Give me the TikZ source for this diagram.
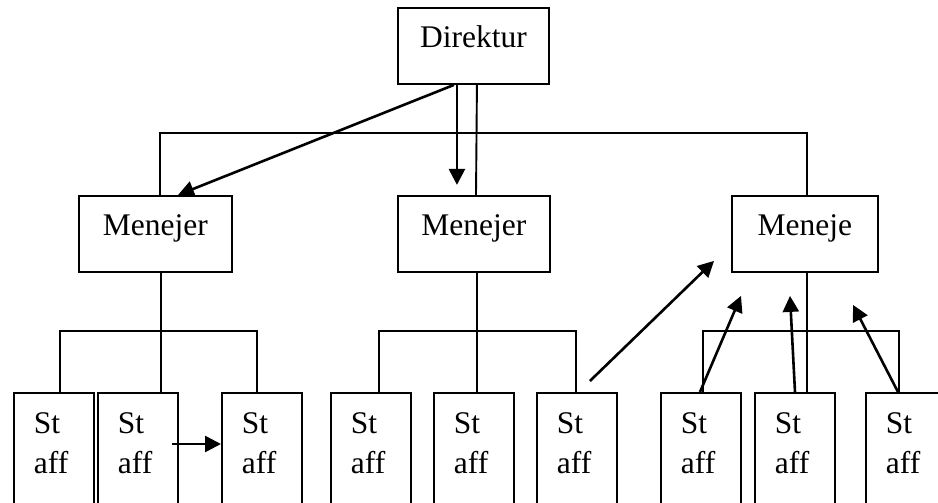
\documentclass[tikz,border=0pt]{standalone}
\usepackage{fontspec}
\setmainfont{Liberation Serif}
\usetikzlibrary{arrows.meta,calc}
\begin{document}
\begin{tikzpicture}[x=1pt,y=-1pt,
  box/.style={draw, line width=1.9pt, rectangle},
  headbox/.style={box, anchor=north west, font=\fontsize{31.5pt}{40pt}\selectfont,
    text height=21pt, text depth=17pt, inner ysep=19pt, inner xsep=0pt},
  staffbox/.style={box, anchor=north west, font=\fontsize{31.5pt}{40pt}\selectfont,
    inner xsep=20pt, inner ysep=20pt, minimum width=80pt},
  link/.style={line width=1.9pt},
  push/.style={line width=2.6pt, -{Triangle[length=16pt,width=16pt]}}]

\clip (0,0) rectangle (938,503);

% director and managers
\node[headbox, minimum width=151pt] (d)  at (397,7)   {Direktur};
\node[headbox, minimum width=153pt] (m1) at (78,195)  {Menejer};
\node[headbox, minimum width=152pt] (m2) at (397,195) {Menejer};
\node[headbox, minimum width=146pt] (m3) at (731,195) {Meneje};

% staff
\newcommand{\stafftext}{\parbox[t][110pt][t]{40pt}{St\\aff}}
\node[staffbox] (s1) at (13,392)  {\stafftext};
\node[staffbox] (s2) at (97,392)  {\stafftext};
\node[staffbox] (s3) at (221,392) {\stafftext};
\node[staffbox] (s4) at (330,392) {\stafftext};
\node[staffbox] (s5) at (433,392) {\stafftext};
\node[staffbox] (s6) at (536,392) {\stafftext};
\node[staffbox] (s7) at (660,392) {\stafftext};
\node[staffbox] (s8) at (754,392) {\stafftext};
\node[staffbox] (s9) at (865,392) {\stafftext};

% top level lines
\draw[link] ($(m1.north west)+(82,0)$) |- ($(m3.north west)+(76,-62)$) -- ($(m3.north west)+(76,0)$);
\draw[link] ($(d.south)+(3.5,0)$) -- ($(m2.north west)+(79,0)$);

% left group
\draw[link] ($(m1.south west)+(83,0)$) -- ($(s2.north west)+(64,0)$);
\draw[link] ($(s1.north west)+(47,0)$) -- ++(0,-61) -| ($(s3.north west)+(36,0)$);

% middle group
\draw[link] ($(m2.south west)+(80,0)$) -- ($(s5.north west)+(44,0)$);
\draw[link] ($(s4.north west)+(49,0)$) -- ++(0,-61) -| ($(s6.north west)+(40,0)$);

% right group
\draw[link] ($(m3.south west)+(76,0)$) -- ($(s8.north west)+(53,0)$);
\draw[link] ($(s7.north west)+(43,0)$) -- ++(0,-61) -| ($(s9.north west)+(34,0)$);

% arrows
\coordinate (dn)  at ($(d.south)+(-16.5,100)$);
\coordinate (s6a) at ($(s6.north east)+(-28,-11)$);
\coordinate (m3a) at ($(m3.south west)+(-17,-12)$);
\coordinate (m3b) at ($(m3.south west)+(10,23)$);
\coordinate (m3c) at ($(m3.south west)+(59,23)$);
\coordinate (m3d) at ($(m3.south west)+(122,32)$);

\draw[push] ($(d.south)+(-19.5,0)$) -- ($(m1.north west)+(100,0)$);
\draw[push] ($(d.south)+(-16.5,0)$) -- (dn);
\draw[push] ($(s2.north east)+(-7,52)$) -- ($(s3.north west)+(0,52)$);
\draw[push] (s6a) -- (m3a);
\draw[push] ($(s7.north west)+(40,0)$) -- (m3b);
\draw[push] ($(s8.north west)+(41,0)$) -- (m3c);
\draw[push] ($(s9.north west)+(33,0)$) -- (m3d);
\end{tikzpicture}
\end{document}
